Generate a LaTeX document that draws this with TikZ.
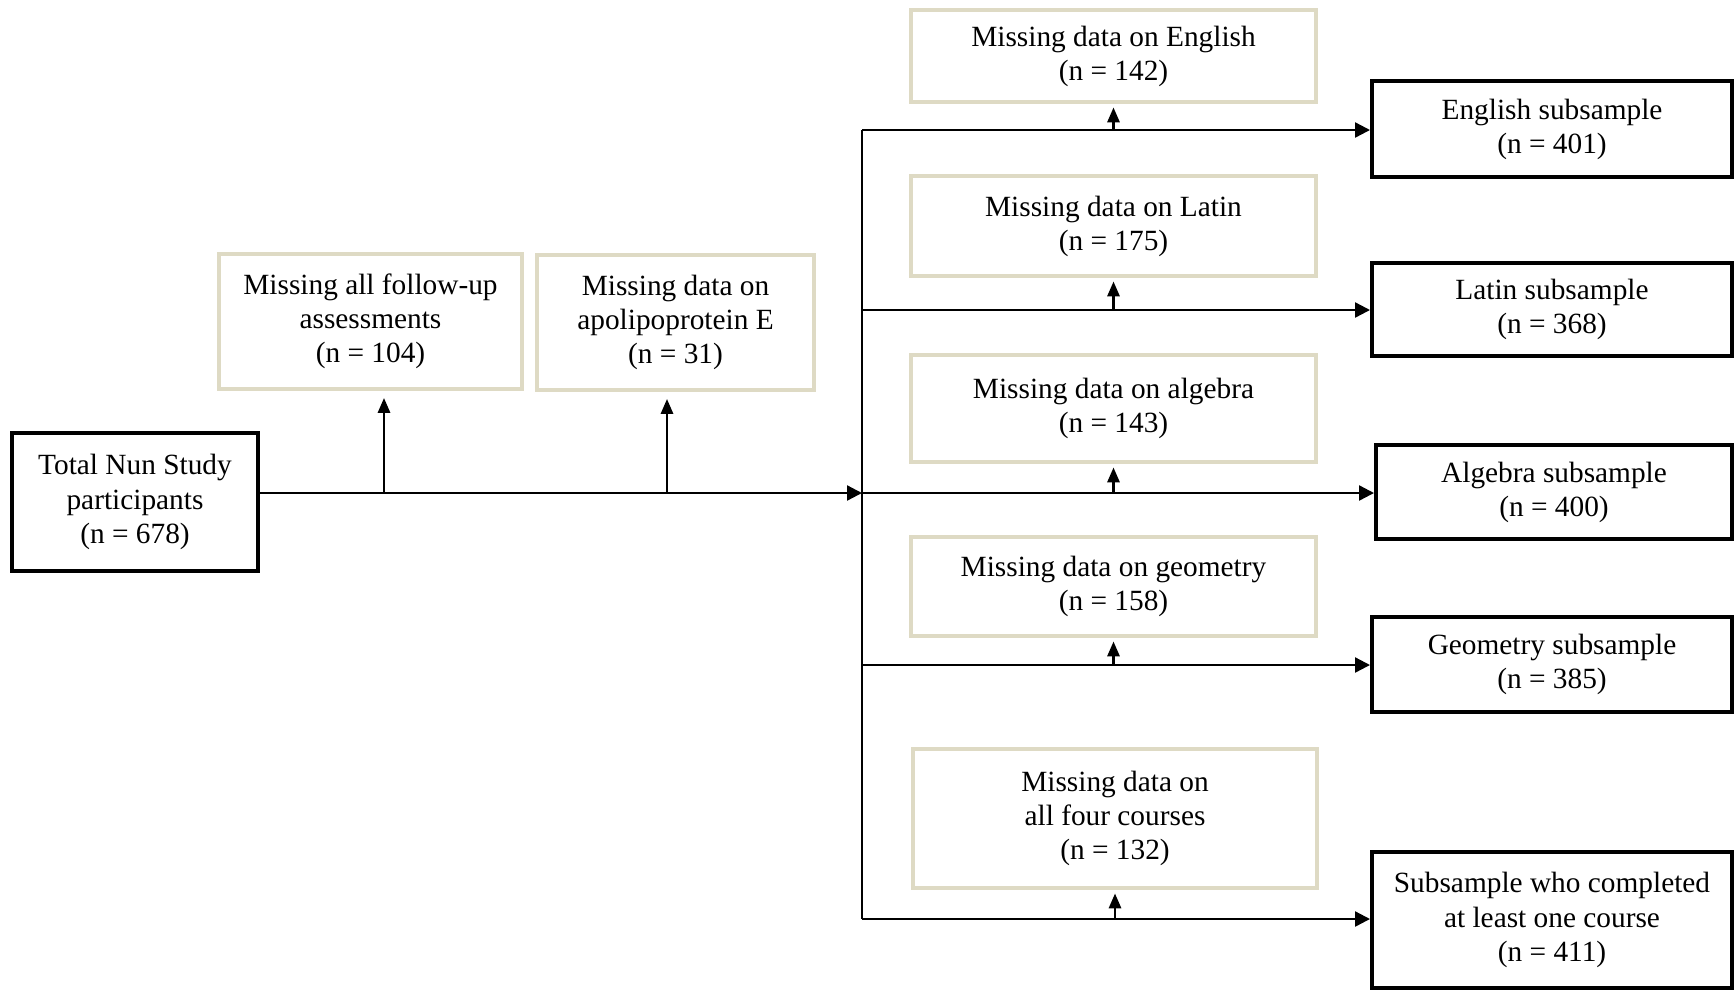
\documentclass[tikz,border=0pt]{standalone}
\usepackage{fontspec}
\setmainfont{Liberation Serif}
\usetikzlibrary{positioning}
\usetikzlibrary{calc}
\usetikzlibrary{arrows.meta}
\definecolor{missbeige}{RGB}{222,218,196}

\begin{document}
\begin{tikzpicture}[x=0.02cm, y=-0.02cm,
        every node/.style={font=\fontsize{16.7pt}{19.4pt}\selectfont, align=center, inner sep=0pt},
        keep/.style={draw, line width=2.3pt, minimum width=7.2cm},
        miss/.style={draw=missbeige, line width=2.3pt, minimum width=8.1cm},
        flow/.style={line width=1.3pt, -{Triangle[width=8.5pt,length=8.5pt]}},
        drop/.style={line width=1.3pt, -{Triangle[width=7pt,length=8.5pt]}}]
            \useasboundingbox (0,0) rectangle (1734,991);

            % left part
            \node[keep, minimum width=4.92cm, minimum height=2.76cm] (total) at (135,502) {Total Nun Study\\participants\\(n = 678)};
            \node[miss, minimum width=6.06cm, minimum height=2.70cm] (mfollow) at (370.5,321.5) {Missing all follow-up\\assessments\\(n = 104)};
            \node[miss, minimum width=5.54cm, minimum height=2.70cm] (mapoe) at (675.5,322.5) {Missing data on\\apolipoprotein E\\(n = 31)};
            \coordinate (split) at (862,493);
            \coordinate (ufollow) at ($(mfollow.south)+(13.5,0)$);
            \coordinate (uapoe) at ($(mapoe.south)+(-8.5,0)$);

            \draw[flow] (total.east |- split) -- (split);
            \draw[drop, shorten >=4pt] (ufollow |- split) -- (ufollow);
            \draw[drop, shorten >=4pt] (uapoe |- split) -- (uapoe);

            % branches
            \coordinate (b1) at (862,130);
            \coordinate (b2) at (862,310);
            \coordinate (b3) at (862,493);
            \coordinate (b4) at (862,665);
            \coordinate (b5) at (862,919);
            \draw[line width=1.3pt] (b1) -- (b5);

            % missing data boxes
            \node[miss, minimum height=1.84cm] (meng) at (1113.5,56) {Missing data on English\\(n = 142)};
            \node[miss, minimum height=2.00cm] (mlat) at (1113.5,226) {Missing data on Latin\\(n = 175)};
            \node[miss, minimum height=2.14cm] (malg) at (1113.5,408.5) {Missing data on algebra\\(n = 143)};
            \node[miss, minimum height=1.98cm] (mgeo) at (1113.5,586.5) {Missing data on geometry\\(n = 158)};
            \node[miss, minimum height=2.78cm] (mall) at (1115,818.5) {Missing data on\\all four courses\\(n = 132)};

            % subsamples
            \node[keep, minimum height=1.92cm] (seng) at (1552,129) {English subsample\\(n = 401)};
            \node[keep, minimum height=1.86cm] (slat) at (1552,309.5) {Latin subsample\\(n = 368)};
            \node[keep, minimum width=7.12cm, minimum height=1.88cm] (salg) at (1554,492) {Algebra subsample\\(n = 400)};
            \node[keep, minimum height=1.90cm] (sgeo) at (1552,664.5) {Geometry subsample\\(n = 385)};
            \node[keep, minimum height=2.72cm] (sone) at (1552,920) {Subsample who completed\\at least one course\\(n = 411)};

            \draw[flow] (b1) -- (b1 -| seng.west);
            \draw[flow] (b2) -- (b2 -| slat.west);
            \draw[flow] (b3) -- (b3 -| salg.west);
            \draw[flow] (b4) -- (b4 -| sgeo.west);
            \draw[flow] (b5) -- (b5 -| sone.west);

            \draw[drop, shorten >=2pt] (meng.south |- b1) -- (meng.south);
            \draw[drop, shorten >=2pt] (mlat.south |- b2) -- (mlat.south);
            \draw[drop, shorten >=2pt] (malg.south |- b3) -- (malg.south);
            \draw[drop, shorten >=2pt] (mgeo.south |- b4) -- (mgeo.south);
            \draw[drop, shorten >=2pt] (mall.south |- b5) -- (mall.south);
        \end{tikzpicture}
\end{document}
